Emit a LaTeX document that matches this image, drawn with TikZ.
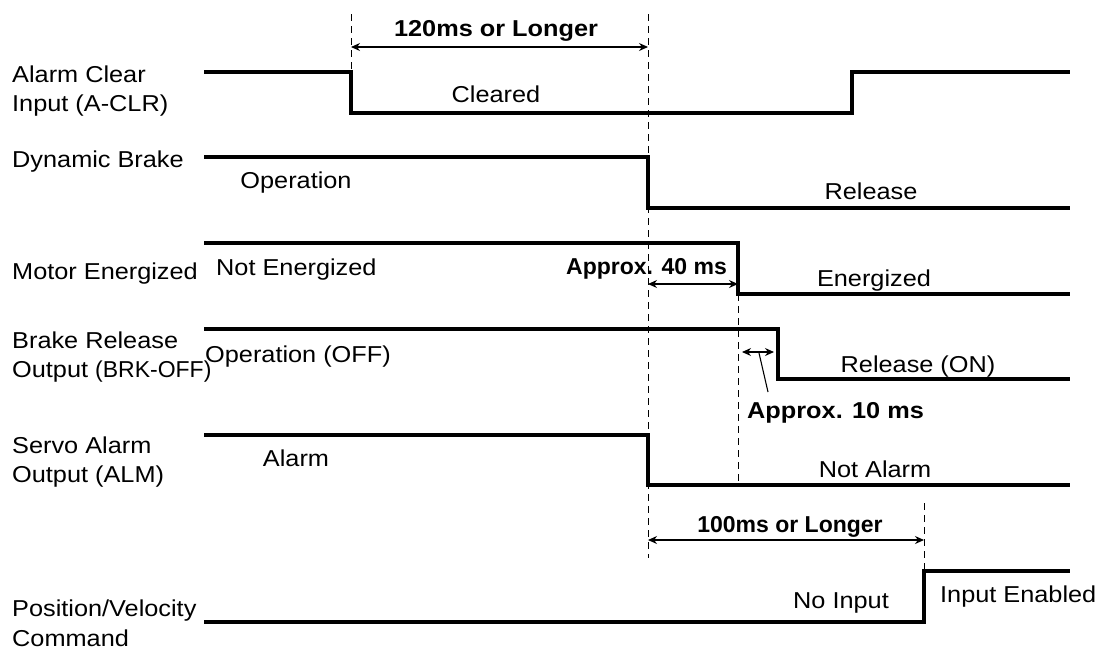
\documentclass[tikz,border=0pt]{standalone}
\usepackage{fontspec}
\setmainfont{Liberation Sans}[FakeStretch=1.1]
\newfontfamily\plainfont{Liberation Sans}
\usetikzlibrary{arrows.meta,positioning,calc}

\begin{document}
\begin{tikzpicture}[x=1pt,y=-1pt,
    signal/.style={line width=3.2pt},
    guide/.style={line width=1pt,dash pattern=on 7pt off 5pt},
    span/.style={line width=1.1pt,{Stealth[length=9pt,width=8pt]}-{Stealth[length=9pt,width=8pt]}},
    lbl/.style={inner sep=0pt,font=\fontsize{23}{29}\selectfont},
    blbl/.style={inner sep=0pt,font=\fontsize{23}{29}\selectfont\bfseries}]
  \useasboundingbox (0,0) rectangle (1103,649);

  % signal names
  \foreach \n/\y/\t in {acl1/82/Alarm Clear,acl2/111/Input (A-CLR),
      dyb/167/Dynamic Brake,mot/279/Motor Energized,
      brk1/348/Brake Release,brk2/377/Output {\plainfont(BRK-OFF)},
      alm1/453/Servo Alarm,alm2/482/Output (ALM),
      cmd1/616/{Position/Velocity},cmd2/646/Command} {
    \node[lbl,anchor=base west] (\n) at (12,\y) {\t};
  }

  % waveforms
  \draw[signal] (204,72) -| (351,113) -| (852,72) -- (1070,72);
  \draw[signal] (204,157) -| (648,208) -- (1070,208);
  \draw[signal] (204,243) -| (738,294) -- (1070,294);
  \draw[signal] (204,329) -| (778,379) -- (1070,379);
  \draw[signal] (204,435) -| (648,485) -- (1070,485);
  \draw[signal] (204,622) -| (924,571) -- (1070,571);

  % timing guides
  \foreach \x/\a/\b in {351/14/72,648/14/558,738/294/485,924/503/571} {
    \draw[guide] (\x,\a) -- (\x,\b);
  }

  % state texts
  \node[lbl,anchor=base] (clr) at (496,102) {Cleared};
  \node[lbl,anchor=base] (dybon) at (296,188) {Operation};
  \node[lbl,anchor=base] (dyboff) at (871,199) {Release};
  \node[lbl,anchor=base west] (motoff) at (216,275) {Not Energized};
  \node[lbl,anchor=base] (moton) at (874,286) {Energized};
  \node[lbl,anchor=base west] (brkoff) at (205,362) {Operation (OFF)};
  \node[lbl,anchor=base] (brkon) at (918,372) {Release (ON)};
  \node[lbl,anchor=base] (almon) at (296,466) {Alarm};
  \node[lbl,anchor=base] (almoff) at (875,477) {Not Alarm};
  \node[lbl,anchor=base] (cmdoff) at (841,608) {No Input};
  \node[lbl,anchor=base west] (cmdon) at (940,602) {Input Enabled};

  % time spans
  \coordinate (t120a) at (351,47);
  \coordinate (t120b) at (648,47);
  \coordinate (t40a) at (648,284);
  \coordinate (t40b) at (738,284);
  \coordinate (t10a) at (742,352);
  \coordinate (t10b) at (774,352);
  \coordinate (t100a) at (648,540);
  \coordinate (t100b) at (924,540);
  \draw[span] (t120a) -- (t120b);
  \draw[span] (t40a) -- (t40b);
  \draw[span] (t10a) -- (t10b);
  \draw[span] (t100a) -- (t100b);

  \node[blbl,anchor=base] (d120) at (496,36) {120ms or Longer};
  \node[blbl,anchor=base east] (d40) at (727,274) {\plainfont\bfseries Approx. 40 ms};
  \node[blbl,anchor=base west] (d10) at (747,418) {Approx. 10 ms};
  \node[blbl,anchor=base] (d100) at (790,532) {\plainfont\bfseries 100ms or Longer};
  \coordinate (lead) at (759,353);
  \coordinate (leadend) at (768,392);
  \draw[line width=1.1pt] (lead) -- (leadend);
\end{tikzpicture}
\end{document}
